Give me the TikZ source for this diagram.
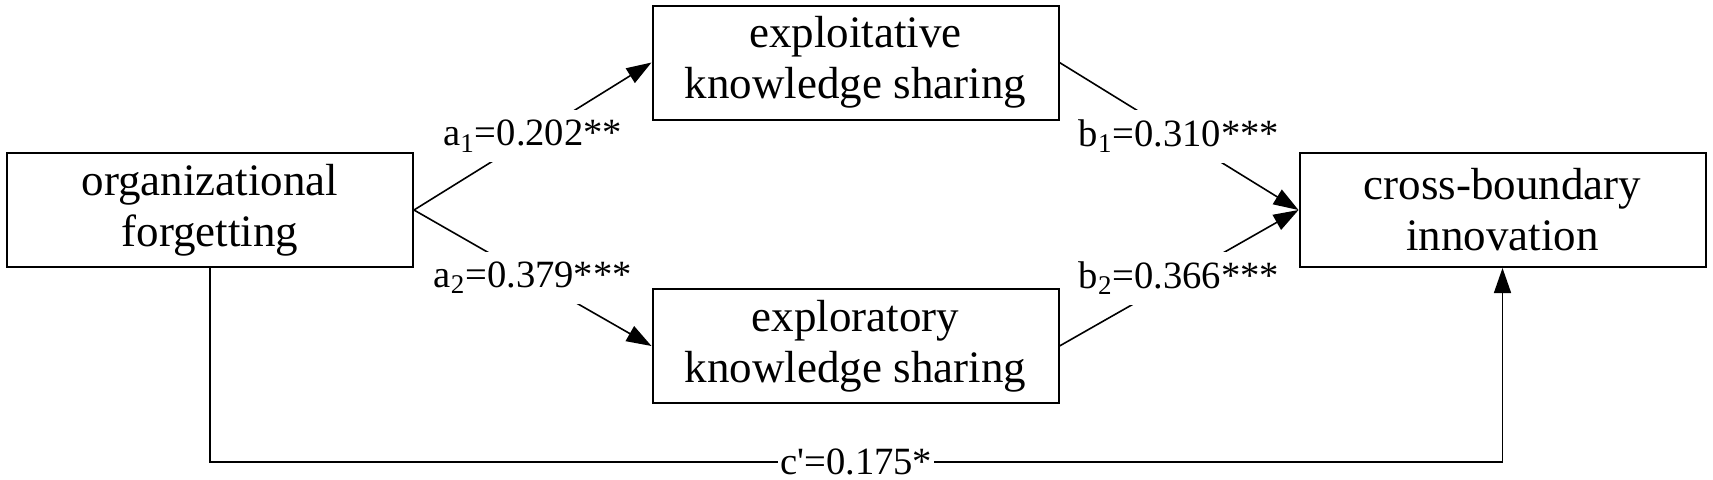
\documentclass[tikz,border=0pt]{standalone}
\usepackage{fontspec}
\setmainfont{Liberation Serif}
\usetikzlibrary{arrows.meta}
\begin{document}
\begin{tikzpicture}[x=0.5pt,y=-0.5pt,
  box/.style={draw, line width=1pt, minimum width=203pt, minimum height=57pt,
    align=center, inner sep=0pt, font=\fontsize{22.5}{25.5}\selectfont},
  conn/.style={line width=0.8pt, -{Triangle[length=12.5pt,width=8.5pt]}},
  coef/.style={fill=white, inner xsep=1pt, inner ysep=5pt,
    font=\fontsize{19.3}{22}\selectfont}]
\useasboundingbox (0,0) rectangle (1713,479);
\node[box] (of)  at (210,210)    {organizational\\forgetting};
\node[box] (eks) at (855.5,62.5) {exploitative\\knowledge sharing};
\node[box] (xks) at (855.5,346)  {exploratory\\knowledge sharing};
\node[box] (cbi) at (1502.5,210) {cross-boundary\\innovation};
\coordinate (bl) at (210,462);
\coordinate (br) at (1502.5,462);
\draw[conn] (of.east) -- node[coef] (la1) {a\textsubscript{1}=0.202**} (eks.west);
\draw[conn] (of.east) -- node[coef] (la2) {a\textsubscript{2}=0.379***} (xks.west);
\draw[conn] (eks.east) -- node[coef] (lb1) {b\textsubscript{1}=0.310***} (cbi.west);
\draw[conn] (xks.east) -- node[coef] (lb2) {b\textsubscript{2}=0.366***} (cbi.west);
\draw[conn] (of.south) -- (bl) -- node[coef, inner ysep=1pt] (lc) {c\textquotesingle=0.175*} (br) -- (cbi.south);
\end{tikzpicture}
\end{document}
